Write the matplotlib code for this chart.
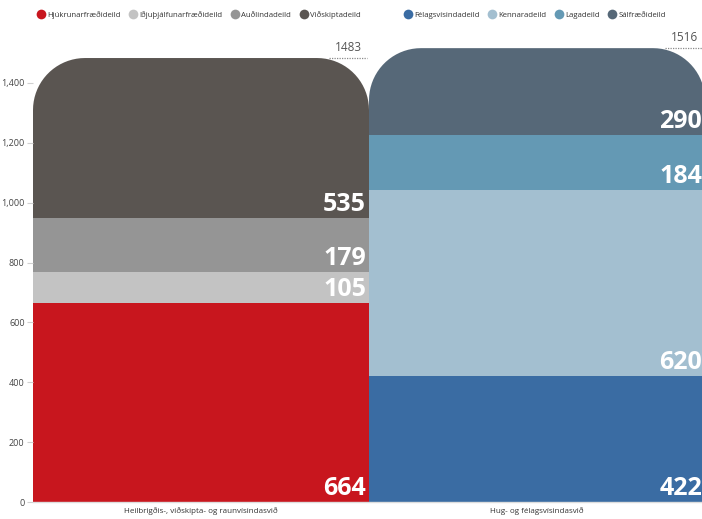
import matplotlib
matplotlib.use("Agg")
import matplotlib.pyplot as plt
import numpy as np
from matplotlib.patches import PathPatch
from matplotlib.path import Path
from matplotlib.lines import Line2D

plt.rcParams["font.family"] = ["Open Sans", "DejaVu Sans"]

categories = ["Heilbrigðis-, viðskipta- og raunvísindasvið", "Hug- og félagsvísindasvið"]

left_names = ["Hjúkrunarfræðideild", "Iðjuþjálfunarfræðideild", "Auðlindadeild", "Viðskiptadeild"]
left_values = [664, 105, 179, 535]
left_colors = ["#C8161E", "#C3C3C3", "#959595", "#5A5551"]

right_names = ["Félagsvísindadeild", "Kennaradeild", "Lagadeild", "Sálfræðideild"]
right_values = [422, 620, 184, 290]
right_colors = ["#3A6CA3", "#A3BFD0", "#6499B4", "#566878"]

yticks = [0, 200, 400, 600, 800, 1000, 1200, 1400]

W, H = 702, 519
fig = plt.figure(figsize=(W / 100, H / 100), dpi=100)
ax_l, ax_b, ax_r, ax_t = 33, 502, 705, 23
ax = fig.add_axes([ax_l / W, (H - ax_b) / H, (ax_r - ax_l) / W, (ax_b - ax_t) / H])
ax.set_xlim(-0.5, 1.5)
ax.set_ylim(0, 1600)

px_x = (ax_r - ax_l) / 2.0       # px per data unit on x
px_y = (ax_b - ax_t) / 1600.0    # px per data unit on y
r_px = 52
rx, ry = r_px / px_x, r_px / px_y


def rounded_top(x0, x1, top):
    # rectangle with rounded top corners, in data units
    t = np.linspace(0, np.pi / 2, 20)
    pts = [(x0, 0)]
    pts += [(x0 + rx - rx * np.cos(a), top - ry + ry * np.sin(a)) for a in t]
    pts += [(x1 - rx + rx * np.sin(a), top - ry + ry * np.cos(a)) for a in t]
    pts += [(x1, 0), (x0, 0)]
    return Path(pts, closed=True)


groups = [(left_names, left_values, left_colors), (right_names, right_values, right_colors)]
for i, (names, vals, cols) in enumerate(groups):
    total = sum(vals)
    clip = PathPatch(rounded_top(i - 0.5, i + 0.5, total), transform=ax.transData,
                     facecolor="none", edgecolor="none")
    bottom = 0
    for v, c in zip(vals, cols):
        bars = ax.bar(i, v, width=1.0, bottom=bottom, color=c, linewidth=0)
        for b in bars:
            b.set_clip_path(clip)
        ax.annotate(str(v), (i + 0.5, bottom), xytext=(-2.2, 5), textcoords="offset points",
                    ha="right", va="baseline", color="white", fontsize=18,
                    fontweight="bold")
        bottom += v
    # total marker
    ax.plot([i + 0.38, i + 0.495], [total, total], ls=(0, (1, 1)), color="#8a8a8a", lw=0.9,
            clip_on=False)
    ax.annotate(str(total), (i + 0.48, total), xytext=(0, 3), textcoords="offset points",
                ha="right", va="bottom", color="#555555", fontsize=8.5, annotation_clip=False)

    handles = [Line2D([], [], marker="o", ls="", markersize=7, color=c, markeredgewidth=0)
               for c in cols]
    fig.legend(handles, names, loc="center", ncol=4, frameon=False, fontsize=5.6,
               bbox_to_anchor=((ax_l + (i + 0.5) * px_x - 2) / W, 1 - 15 / H),
               handletextpad=0.3, columnspacing=1.1, handlelength=1.0, labelcolor="#333333")

ax.set_yticks(yticks)
ax.set_yticklabels([f"{v:,}" for v in yticks], fontsize=6.5, color="#444444")
ax.tick_params(axis="y", length=4, color="#d0d0d0", pad=2)
ax.set_xticks([0, 1])
ax.set_xticklabels(categories, fontsize=5.8, color="#333333")
ax.tick_params(axis="x", length=0, pad=4)
for s in ["top", "right", "left"]:
    ax.spines[s].set_visible(False)
ax.spines["bottom"].set_color("#dddddd")
ax.spines["bottom"].set_linewidth(1)

fig.savefig("out.png", dpi=100)
